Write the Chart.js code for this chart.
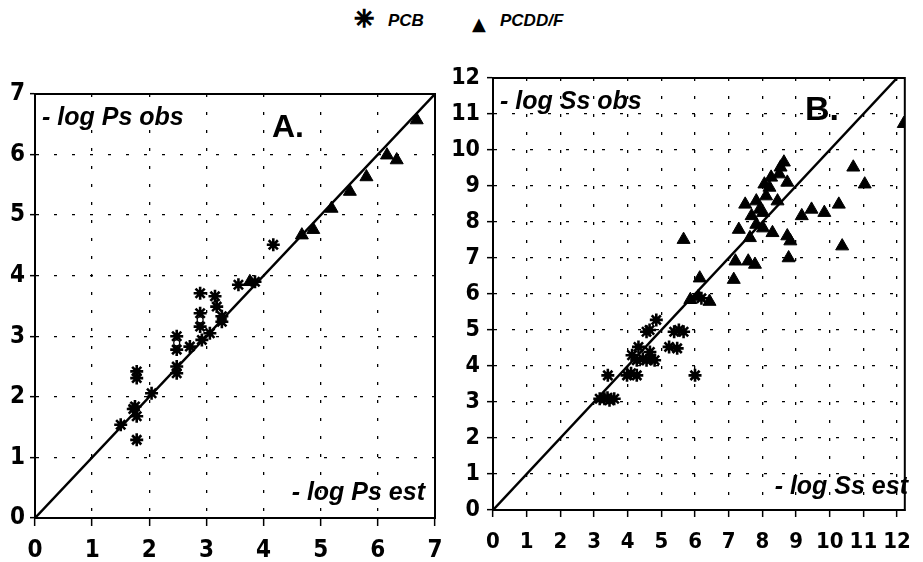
<!DOCTYPE html>
<html>
<head>
<meta charset="utf-8">
<script src="https://cdn.jsdelivr.net/npm/chart.js@4.4.1/dist/chart.umd.min.js"></script>
<style>
  body { margin: 0; width: 923px; height: 562px; background: #fff; position: relative; overflow: hidden;
         font-family: "Liberation Sans", Arial, sans-serif; color: #000; }
  .box { position: absolute; }
  .lbl { position: absolute; font-weight: bold; font-style: italic; font-size: 25px; line-height: 1; white-space: nowrap; }
  .big { position: absolute; font-weight: bold; line-height: 1; white-space: nowrap; }
  .leg { position: absolute; font-weight: bold; font-style: italic; font-size: 17px; line-height: 1; white-space: nowrap; }
  .sym { position: absolute; line-height: 1; font-family: "DejaVu Sans", sans-serif; font-weight: bold; }
</style>
</head>
<body>
<div class="sym" style="left:354px;top:7px;font-size:24px;-webkit-text-stroke:1.6px #000">✳</div>
<div class="leg" style="left:388px;top:12px">PCB</div>
<div class="sym" style="left:472px;top:15px;font-size:18px">▲</div>
<div class="leg" style="left:500px;top:12px">PCDD/F</div>

<div class="box" style="left:0;top:60px;width:455px;height:502px"><canvas id="chartA"></canvas></div>
<div class="box" style="left:440px;top:40px;width:483px;height:522px"><canvas id="chartB"></canvas></div>

<div class="lbl" style="left:42px;top:104px">- log Ps obs</div>
<div class="big" style="left:272px;top:110px;font-size:32px">A.</div>
<div class="lbl" style="right:498px;top:479px">- log Ps est</div>

<div class="lbl" style="left:500px;top:88px">- log Ss obs</div>
<div class="big" style="left:805px;top:91px;font-size:34px">B.</div>
<div class="lbl" style="right:15px;top:473px">- log Ss est</div>

<script>
// panel A: -log Ps
const ticksA = [0, 1, 2, 3, 4, 5, 6, 7];
const pcbA_x = [1.5, 1.72, 1.75, 1.78, 1.78, 1.78, 1.78, 2.04, 2.48, 2.48, 2.48, 2.48, 2.71, 2.89, 2.89, 2.89, 2.92, 3.06, 3.15, 3.18, 3.27, 3.27, 3.56, 3.85, 4.17];
const pcbA_y = [1.54, 1.8, 1.84, 1.68, 1.29, 2.42, 2.31, 2.06, 3.0, 2.78, 2.5, 2.39, 2.83, 3.71, 3.38, 3.16, 2.94, 3.05, 3.66, 3.49, 3.33, 3.24, 3.85, 3.9, 4.51];
const ringA_x = [2.48, 2.89];
const ringA_y = [2.89, 3.27];
const pcddA_x = [3.76, 4.67, 4.87, 5.19, 5.51, 5.8, 6.16, 6.33, 6.68];
const pcddA_y = [3.9, 4.67, 4.76, 5.11, 5.39, 5.63, 5.99, 5.91, 6.57];

// panel B: -log Ss
const ticksB = [0, 1, 2, 3, 4, 5, 6, 7, 8, 9, 10, 11, 12];
const pcbB_x = [3.17, 3.31, 3.4, 3.46, 3.6, 3.41, 3.98, 4.1, 4.27, 4.13, 4.32, 4.27, 4.45, 4.56, 4.7, 4.8, 4.56, 4.65, 4.85, 4.66, 5.23, 5.47, 5.38, 5.52, 5.66, 6.0, 6.19];
const pcbB_y = [3.09, 3.09, 3.12, 3.05, 3.09, 3.74, 3.74, 3.8, 3.74, 4.3, 4.53, 4.16, 4.2, 4.16, 4.2, 4.16, 4.95, 5.0, 5.28, 4.39, 4.53, 4.49, 4.95, 5.0, 4.95, 3.74, 5.88];
const pcddB_x = [12.2, 10.7, 11.04, 8.64, 8.54, 8.5, 8.26, 8.06, 8.21, 8.74, 7.49, 7.82, 8.11, 8.45, 7.92, 8.02, 7.68, 7.82, 7.3, 8.02, 7.63, 8.3, 8.74, 8.83, 8.78, 9.17, 9.46, 9.84, 10.27, 10.37, 5.66, 7.2, 7.58, 7.78, 7.15, 6.14, 5.86, 6.43, 6.1];
const pcddB_y = [10.73, 9.52, 9.05, 9.66, 9.52, 9.33, 9.24, 9.05, 8.96, 9.1, 8.49, 8.58, 8.72, 8.58, 8.35, 8.26, 8.17, 7.93, 7.79, 7.83, 7.56, 7.7, 7.61, 7.47, 7.0, 8.17, 8.35, 8.26, 8.49, 7.33, 7.51, 6.91, 6.91, 6.82, 6.4, 6.44, 5.84, 5.79, 5.93];

const fontFamily = '"Liberation Sans Narrow", "DejaVu Sans Condensed", sans-serif';

function pts(xs, ys) {
    return xs.map((x, i) => ({ x: x, y: ys[i] }));
}

// box round the plot area
const framePlugin = {
    id: 'frame',
    beforeDatasetsDraw(chart) {
        const { ctx, chartArea: a } = chart;
        ctx.save();
        ctx.strokeStyle = '#000';
        ctx.lineWidth = 2;
        ctx.strokeRect(a.left, a.top, a.right - a.left, a.bottom - a.top);
        ctx.restore();
    }
};

function axis(pos, max, ticks, size, tickLen, pad, fontSize) {
    return {
        type: 'linear',
        position: pos,
        min: 0,
        max: max,
        afterBuildTicks: s => { s.ticks = ticks.map(v => ({ value: v })); },
        afterFit: s => { if (pos === 'left') s.width = size; else s.height = size; },
        ticks: { color: '#000', font: { family: fontFamily, size: fontSize, weight: 'bold' }, padding: pad, maxRotation: 0, autoSkip: false },
        grid: { color: '#000', lineWidth: 1.3, tickLength: tickLen, tickColor: '#000', tickWidth: 1.5, tickBorderDash: [] },
        border: { display: true, color: '#000', width: 2, dash: [3, 15] }
    };
}

function makeChart(id, pcb, ring, pcdd, diagMax, xAxis, yAxis, padRight, padTop) {
    const datasets = [
        { type: 'line', data: [{ x: 0, y: 0 }, { x: diagMax, y: diagMax }], borderColor: '#000', borderWidth: 2.5, pointRadius: 0, order: 3 },
        { label: 'PCB', data: pcb, pointStyle: 'star', pointRadius: 6.5, borderColor: '#000', borderWidth: 2.6, order: 1 },
        { label: 'PCDD/F', data: pcdd, pointStyle: 'triangle', pointRadius: 7.5, backgroundColor: '#000', borderColor: '#000', borderWidth: 1, order: 2 }
    ];
    if (ring.length) {
        datasets.push({ data: ring, pointStyle: 'circle', pointRadius: 3, backgroundColor: '#fff', borderColor: '#000', borderWidth: 1.2, order: 0 });
    }
    return new Chart(document.getElementById(id), {
        type: 'scatter',
        data: { datasets: datasets },
        options: {
            responsive: true,
            maintainAspectRatio: false,
            animation: false,
            events: [],
            layout: { padding: { top: padTop, right: padRight, left: 0, bottom: 0 } },
            plugins: { legend: { display: false }, tooltip: { enabled: false } },
            scales: { x: xAxis, y: yAxis }
        },
        plugins: [framePlugin]
    });
}

makeChart('chartA', pts(pcbA_x, pcbA_y), pts(ringA_x, ringA_y), pts(pcddA_x, pcddA_y), 7,
    axis('bottom', 7, ticksA, 44, 8, 10, 24),
    axis('left', 7, ticksA, 35, 5, 5, 24),
    20, 34);

makeChart('chartB', pts(pcbB_x, pcbB_y), [], pts(pcddB_x, pcddB_y), 12,
    axis('bottom', 12.23, ticksB, 52, 7, 12, 22),
    axis('left', 12, ticksB, 53, 6, 7, 23),
    5, 38);
</script>
</body>
</html>
